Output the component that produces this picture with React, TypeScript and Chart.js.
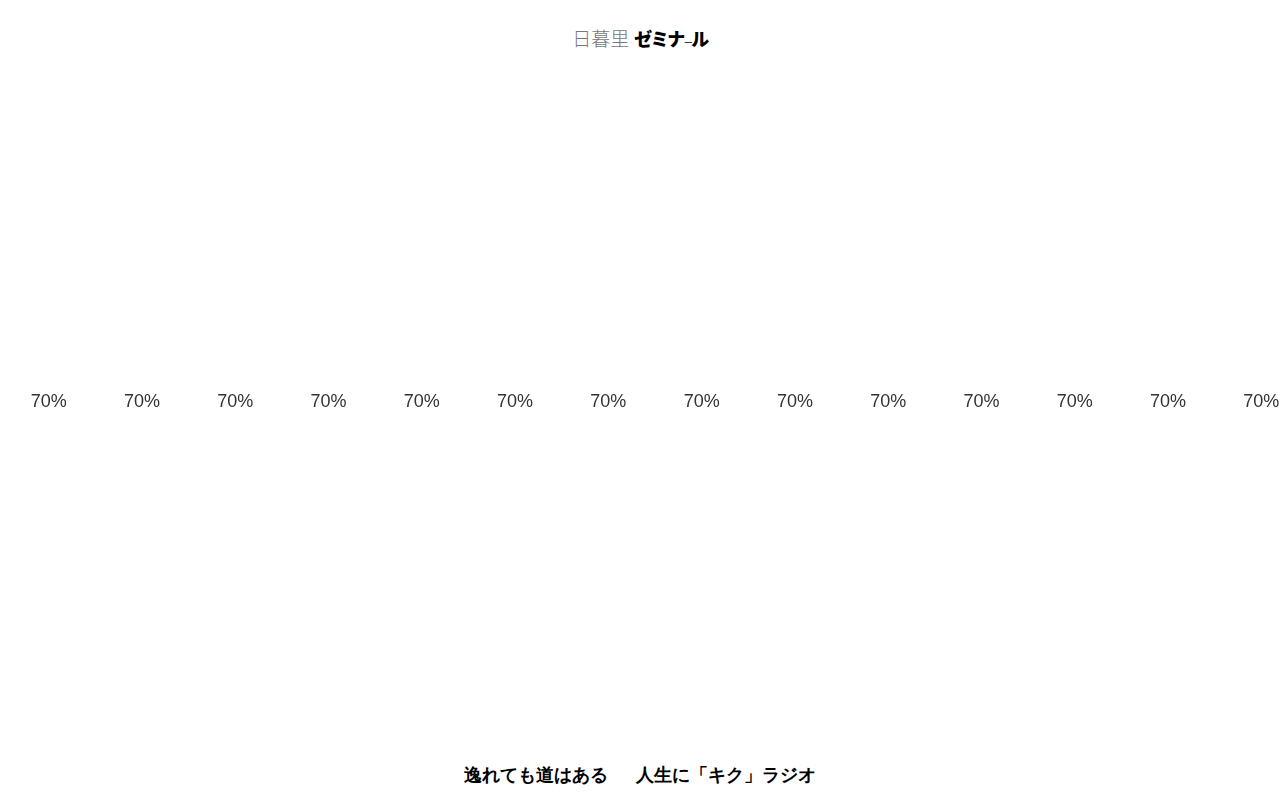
import React, { useRef, useEffect } from 'react';
import { Chart, ChartConfiguration, Plugin, registerables } from 'chart.js';

Chart.register(...registerables);

// 14 items, all showing the same rate
const categories = ['1', '2', '3', '4', '5', '6', '7', '8', '9', '10', '11', '12', '13', '14'];
const rates = [70, 70, 70, 70, 70, 70, 70, 70, 70, 70, 70, 70, 70, 70];
const rateLabels = ['70%', '70%', '70%', '70%', '70%', '70%', '70%', '70%', '70%', '70%', '70%', '70%', '70%', '70%'];

const logoLeft = '日暮里';
const logoRight = 'ゼミナ';
const footerLeft = '逸れても道はある';
const footerRight = '人生に「キク」ラジオ';

// draws the rate text where each point sits
const rateTextPlugin: Plugin = {
  id: 'rateText',
  afterDatasetsDraw(chart) {
    const { ctx } = chart;
    const meta = chart.getDatasetMeta(0);
    ctx.save();
    ctx.font = '18px "Liberation Sans", Arial, sans-serif';
    ctx.fillStyle = '#333333';
    ctx.textAlign = 'center';
    ctx.textBaseline = 'middle';
    meta.data.forEach((pt, i) => {
      ctx.fillText(rateLabels[i], pt.x, pt.y);
    });
    ctx.restore();
  },
};

const RateRow: React.FC = () => {
  const chartRef = useRef<HTMLCanvasElement>(null);
  const chartInstance = useRef<Chart | null>(null);

  useEffect(() => {
    if (chartRef.current && !chartInstance.current) {
      const config: ChartConfiguration = {
        type: 'line',
        data: {
          labels: categories,
          datasets: [{
            data: rates,
            showLine: false,
            pointRadius: 0,
            pointHoverRadius: 0,
          }],
        },
        options: {
          animation: false,
          responsive: true,
          maintainAspectRatio: false,
          layout: { padding: 0 },
          plugins: { legend: { display: false }, tooltip: { enabled: false } },
          scales: {
            x: { display: false, offset: true },
            y: { display: false, min: 0, max: 140 },
          },
        },
        plugins: [rateTextPlugin],
      };
      chartInstance.current = new Chart(chartRef.current, config);
    }
    return () => {
      if (chartInstance.current) {
        chartInstance.current.destroy();
        chartInstance.current = null;
      }
    };
  }, []);

  return (
    <div style={{ position: 'absolute', left: 2, top: 78, width: 1306, height: 648 }}>
      <canvas ref={chartRef}></canvas>
    </div>
  );
};

export default function App() {
  useEffect(() => {
    document.body.style.margin = '0';
    document.body.style.overflow = 'hidden';
  }, []);

  return (
    <div style={{ position: 'relative', width: 1280, height: 800, overflow: 'hidden', background: '#fff' }}>
      {/* logo */}
      <div style={{ position: 'absolute', top: 26, left: 0, width: 1280, textAlign: 'center', lineHeight: '24px', whiteSpace: 'nowrap' }}>
        <span style={{ fontFamily: '"Noto Sans CJK JP", sans-serif', fontWeight: 300, fontSize: 19, color: '#777' }}>{logoLeft}</span>
        <span style={{ fontFamily: '"Noto Sans CJK JP", sans-serif', fontWeight: 900, fontSize: 18, letterSpacing: -1.5, color: '#000', marginLeft: 5 }}>
          {logoRight}
          <span style={{ fontSize: 9, fontWeight: 400 }}>ー</span>
          ル
        </span>
      </div>
      <RateRow />
      {/* footer */}
      <div style={{ position: 'absolute', top: 763, left: 0, width: 1280, textAlign: 'center', fontFamily: 'serif', fontWeight: 'bold', fontSize: 18, lineHeight: '24px', color: '#000', whiteSpace: 'nowrap' }}>
        <span>{footerLeft}</span>
        <span style={{ marginLeft: 28 }}>{footerRight}</span>
      </div>
    </div>
  );
}
